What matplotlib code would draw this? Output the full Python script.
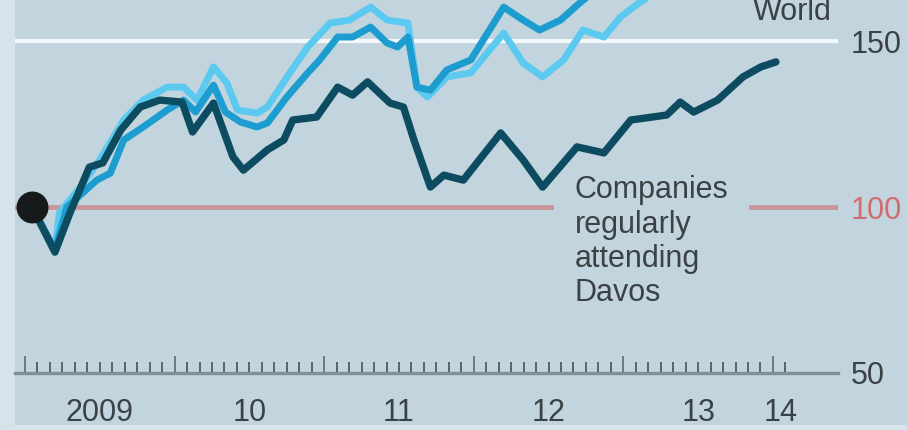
"""
Davos companies v world stocks, index = 100 at start of 2009.
"""
import numpy as np
import matplotlib
matplotlib.use("Agg")
import matplotlib.pyplot as plt
from matplotlib.patches import Rectangle

# time in decimal years, values as index (start = 100)
davos_t = [2009.047, 2009.20, 2009.30, 2009.43, 2009.52, 2009.64, 2009.77, 2009.90,
           2010.05, 2010.12, 2010.26, 2010.39, 2010.46, 2010.62, 2010.73, 2010.79,
           2010.95, 2011.09, 2011.19, 2011.29, 2011.44, 2011.53, 2011.60, 2011.71,
           2011.80, 2011.93, 2012.18, 2012.33, 2012.46, 2012.69, 2012.87, 2013.05,
           2013.29, 2013.38, 2013.47, 2013.63, 2013.80, 2013.92, 2014.02]
davos_v = [100.0, 86.4, 98.2, 112.0, 113.3, 123.2, 130.1, 132.2,
           131.6, 122.6, 131.3, 115.1, 111.1, 117.2, 120.2, 126.2,
           127.1, 136.1, 133.7, 137.7, 131.3, 130.1, 120.2, 106.0,
           109.6, 108.1, 122.3, 114.2, 106.0, 118.1, 116.3, 126.2,
           127.7, 131.6, 128.6, 132.2, 139.2, 142.2, 143.7]

world_t = [2009.047, 2009.20, 2009.28, 2009.48, 2009.57, 2009.66, 2009.79, 2009.95,
           2010.06, 2010.14, 2010.26, 2010.34, 2010.44, 2010.55, 2010.62, 2010.75,
           2010.89, 2010.97, 2011.09, 2011.19, 2011.31, 2011.42, 2011.49, 2011.56,
           2011.62, 2011.71, 2011.82, 2011.98, 2012.20, 2012.33, 2012.44, 2012.58,
           2012.73, 2012.85, 2013.10, 2013.40, 2013.70, 2014.02]
world_v = [100.0, 87.0, 100.0, 108.1, 110.2, 120.2, 124.1, 129.2,
           132.2, 128.6, 136.7, 128.6, 125.6, 124.1, 125.3, 133.1,
           140.4, 144.3, 151.2, 151.2, 154.2, 149.4, 148.2, 151.2,
           136.1, 135.2, 141.3, 144.3, 160.2, 156.3, 153.3, 156.3,
           162.3, 165.4, 172.0, 178.0, 182.0, 186.0]

other_t = [2009.047, 2009.20, 2009.23, 2009.37, 2009.50, 2009.66, 2009.79, 2009.95,
           2010.06, 2010.15, 2010.26, 2010.35, 2010.42, 2010.55, 2010.62, 2010.77,
           2010.89, 2011.04, 2011.17, 2011.31, 2011.42, 2011.56, 2011.62, 2011.69,
           2011.82, 2011.98, 2012.20, 2012.33, 2012.46, 2012.60, 2012.73, 2012.87,
           2012.98, 2013.13, 2013.40, 2013.70, 2014.02]
other_v = [100.0, 87.0, 98.2, 106.0, 114.2, 126.2, 132.2, 136.1,
           136.1, 132.2, 142.2, 137.3, 129.2, 128.3, 130.1, 140.4,
           148.2, 155.4, 156.3, 160.2, 156.3, 155.4, 136.1, 133.1,
           139.2, 140.4, 152.4, 143.4, 139.2, 144.3, 153.3, 151.2,
           157.2, 162.3, 168.0, 173.0, 178.0]

year_labels = ["2009", "10", "11", "12", "13", "14"]
year_label_pos = [2009.5, 2010.5, 2011.5, 2012.5, 2013.5, 2014.05]
y_ticks = [50, 100, 150]

BG = "#c2d4dd"
TXT = "#3b4246"
plt.rcParams["font.family"] = ["Liberation Sans", "DejaVu Sans"]

fig = plt.figure(figsize=(9.07, 4.30), dpi=100, facecolor="#d5e3ea")
fig.add_artist(Rectangle((15 / 907, 5 / 430), 1, 1, transform=fig.transFigure,
                         facecolor=BG, edgecolor="none", zorder=-10))
ax = fig.add_axes([15 / 907, 1 - 373 / 430, 823 / 907, 373 / 430])
ax.set_facecolor("none")

ax.axhline(150, color="#f2f8fb", lw=3, zorder=1)
ax.axhline(100, color="#c8979b", lw=3.5, zorder=1)

ax.plot(other_t, other_v, color="#5ccaf0", lw=5, zorder=3,
        solid_joinstyle="round", solid_capstyle="round")
ax.plot(world_t, world_v, color="#1c9ccf", lw=5, zorder=4,
        solid_joinstyle="round", solid_capstyle="round")
ax.plot(davos_t, davos_v, color="#0c4b60", lw=5.3, zorder=5,
        solid_joinstyle="round", solid_capstyle="round")
ax.plot(davos_t[0], davos_v[0], "o", color="#171a1b", ms=22, zorder=6)

ax.text(2012.676, 109.5, "Companies\nregularly\nattending\nDavos", ha="left", va="top",
        fontsize=22, color=TXT, linespacing=1.18, zorder=2,
        bbox=dict(facecolor=BG, edgecolor="none", pad=15))
ax.text(2014.394, 156.3, "World", ha="right", va="baseline", fontsize=22, color=TXT)

ax.set_xlim(2008.933, 2014.435)
ax.set_ylim(50, 162.35)

for s in ["top", "left", "right"]:
    ax.spines[s].set_visible(False)
ax.spines["bottom"].set_color("#808f97")
ax.spines["bottom"].set_linewidth(2.4)

ax.set_xticks(np.arange(2009, 2015))
ax.set_xticks(np.arange(2009, 2014.1, 1 / 12), minor=True)
ax.tick_params(axis="x", which="major", direction="in", length=12, width=1.4,
               color="#6a7a82", labelbottom=False)
ax.tick_params(axis="x", which="minor", direction="in", length=8, width=1.4,
               color="#56656c")
for lab, pos in zip(year_labels, year_label_pos):
    ax.text(pos, -0.068, lab, transform=ax.get_xaxis_transform(), ha="center",
            va="top", fontsize=22, color=TXT)

ax.yaxis.tick_right()
ax.set_yticks(y_ticks)
ax.set_yticklabels([str(v) for v in y_ticks], fontsize=22, color=TXT)
ax.tick_params(axis="y", length=0, pad=9)
ax.get_yticklabels()[1].set_color("#d26c6e")

fig.savefig("out.png", dpi=100, facecolor=fig.get_facecolor())
